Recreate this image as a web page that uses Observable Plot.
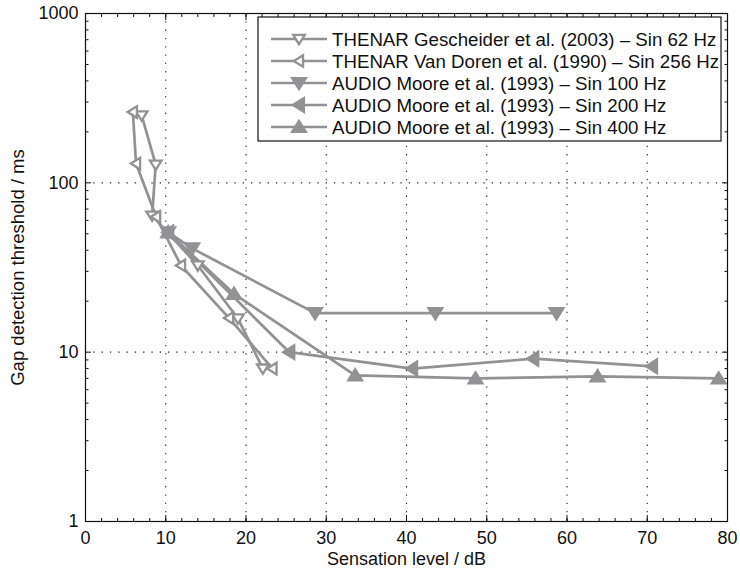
<!DOCTYPE html>
<html><head><meta charset="utf-8">
<script src="https://cdn.jsdelivr.net/npm/d3@7"></script>
<script src="https://cdn.jsdelivr.net/npm/@observablehq/plot@0.6"></script>
<style>
body{margin:0;background:#fff}
#chart{position:relative;width:740px;height:571px}
</style>
</head><body><div id="chart"></div>
<script>
// ---- data ----
const seriesNames = [
  "THENAR Gescheider et al. (2003) \u2013 Sin 62 Hz",
  "THENAR Van Doren et al. (1990) \u2013 Sin 256 Hz",
  "AUDIO Moore et al. (1993) \u2013 Sin 100 Hz",
  "AUDIO Moore et al. (1993) \u2013 Sin 200 Hz",
  "AUDIO Moore et al. (1993) \u2013 Sin 400 Hz"
];
const gescheiderX = [7.0, 8.75, 8.3, 14.0, 19.0, 22.1];
const gescheiderY = [250, 128, 64, 32.5, 15.8, 8.0];
const vanDorenX = [5.9, 6.3, 8.8, 11.9, 17.9, 23.3];
const vanDorenY = [262, 130, 63, 32.5, 15.9, 8.0];
const moore100X = [10.3, 13.3, 28.6, 43.6, 58.7];
const moore100Y = [51, 41, 17, 17, 17];
const moore200X = [10.3, 25.4, 40.7, 55.8, 70.6];
const moore200Y = [51, 10, 8.0, 9.15, 8.25];
const moore400X = [10.3, 18.5, 33.6, 48.6, 63.8, 78.9];
const moore400Y = [51, 22.1, 7.3, 7.0, 7.2, 7.0];

const xTicks = [0, 10, 20, 30, 40, 50, 60, 70, 80];
const xMinorTicks = d3.range(0, 81, 2);
const yTicks = [1, 10, 100, 1000];
const yMinorTicks = [1, 10, 100].flatMap(d => [2,3,4,5,6,7,8,9].map(m => m * d));
const xGrid = [10, 20, 30, 40, 50, 60, 70];
const yGrid = [10, 100];
const xLabel = "Sensation level / dB";
const yLabel = "Gap detection threshold / ms";

// ---- styling ----
const gray = "#929295";
const font = "'Liberation Sans', Arial, Helvetica, sans-serif";
const tri = pts => ({draw(ctx, size) {
  const r = Math.sqrt(size / Math.PI);
  ctx.moveTo(pts[0][0] * r, pts[0][1] * r);
  ctx.lineTo(pts[1][0] * r, pts[1][1] * r);
  ctx.lineTo(pts[2][0] * r, pts[2][1] * r);
  ctx.closePath();
}});
const symUp = tri([[0, -0.9], [1, 0.7], [-1, 0.7]]);
const symDown = tri([[0, 0.9], [1, -0.7], [-1, -0.7]]);
const symLeft = tri([[-0.9, 0], [0.7, -1], [0.7, 1]]);

const specs = [
  {xs: gescheiderX, ys: gescheiderY, symbol: symDown, filled: false},
  {xs: vanDorenX, ys: vanDorenY, symbol: symLeft, filled: false},
  {xs: moore100X, ys: moore100Y, symbol: symDown, filled: true},
  {xs: moore200X, ys: moore200Y, symbol: symLeft, filled: true},
  {xs: moore400X, ys: moore400Y, symbol: symUp, filled: true}
];
const rFilled = 7.6, rOpen = 5.8;
const rows = specs.flatMap((s, i) => s.xs.map((x, j) => ({series: seriesNames[i], x, y: s.ys[j]})));

const dotMarks = specs.map((s, i) => Plot.dot(rows.filter(d => d.series === seriesNames[i]), {
  x: "x", y: "y", symbol: () => s.symbol,
  r: s.filled ? rFilled : rOpen,
  fill: s.filled ? gray : "white",
  stroke: gray, strokeWidth: s.filled ? 1.5 : 2.3
}));

const plot = Plot.plot({
  width: 740, height: 571,
  marginLeft: 85, marginRight: 13, marginTop: 13, marginBottom: 50,
  style: {fontFamily: font, fontSize: "18px", background: "white", color: "#111"},
  x: {domain: [0, 80], label: null, axis: null},
  y: {type: "log", domain: [1, 1000], label: null, axis: null},
  symbol: {type: "identity"},
  marks: [
    Plot.ruleX(xGrid, {x: d => d, stroke: "#222", strokeWidth: 1.1, strokeDasharray: "1.3,7"}),
    Plot.ruleY(yGrid, {y: d => d, stroke: "#222", strokeWidth: 1.1, strokeDasharray: "1.3,7"}),
    Plot.line(rows, {x: "x", y: "y", z: "series", stroke: gray, strokeWidth: 2.7}),
    ...dotMarks,
    Plot.frame({stroke: "#111", strokeWidth: 1.2}),
    Plot.axisX({ticks: xTicks, anchor: "bottom", tickSize: -6, tickFormat: () => "", label: null}),
    Plot.axisX({ticks: xTicks, anchor: "top", tickSize: -6, tickFormat: () => "", label: null}),
    Plot.axisX({ticks: xMinorTicks, anchor: "bottom", tickSize: -3, tickFormat: () => "", label: null}),
    Plot.axisX({ticks: xMinorTicks, anchor: "top", tickSize: -3, tickFormat: () => "", label: null}),
    Plot.axisY({ticks: yTicks, anchor: "left", tickSize: -6, tickFormat: () => "", label: null}),
    Plot.axisY({ticks: yTicks, anchor: "right", tickSize: -6, tickFormat: () => "", label: null}),
    Plot.axisY({ticks: yMinorTicks, anchor: "left", tickSize: -3.5, tickFormat: () => "", label: null}),
    Plot.axisY({ticks: yMinorTicks, anchor: "right", tickSize: -3.5, tickFormat: () => "", label: null}),
    Plot.axisX({ticks: xTicks, anchor: "bottom", tickSize: 0, tickPadding: 10, tickFormat: d => String(d), label: null, fontSize: 18, fill: "#111"}),
    Plot.axisY({ticks: yTicks, anchor: "left", tickSize: 0, tickPadding: 7, tickFormat: d => String(d), label: null, fontSize: 18, fill: "#111"}),
    Plot.text([xLabel], {text: d => d, frameAnchor: "bottom", dy: 38, textAnchor: "middle", lineAnchor: "middle", fontSize: 18, fill: "#111"}),
    Plot.text([yLabel], {text: d => d, frameAnchor: "left", dx: -67, rotate: -90, textAnchor: "middle", lineAnchor: "middle", fontSize: 18.5, fill: "#111"})
  ]
});

// ---- legend (overlay inside the axes, top right) ----
const svg = d3.select(plot);
const lg = svg.append("g").attr("font-family", font).attr("font-size", 18.7).attr("text-anchor", "start");
const boxX = 258, boxY = 17, boxW = 463, boxH = 124, rowY0 = 39, rowDy = 22;
lg.append("rect").attr("x", boxX).attr("y", boxY).attr("width", boxW).attr("height", boxH)
  .attr("fill", "white").attr("stroke", "#111").attr("stroke-width", 1.2);
specs.forEach((s, i) => {
  const y = rowY0 + i * rowDy;
  lg.append("line").attr("x1", 271).attr("x2", 327).attr("y1", y).attr("y2", y)
    .attr("stroke", gray).attr("stroke-width", 2.7);
  const r = s.filled ? rFilled : rOpen;
  lg.append("path").attr("transform", `translate(299,${y})`)
    .attr("d", d3.symbol(s.symbol, Math.PI * r * r)())
    .attr("fill", s.filled ? gray : "white").attr("stroke", gray)
    .attr("stroke-width", s.filled ? 1.5 : 2.3);
  lg.append("text").attr("x", 332).attr("y", y).attr("dy", "0.35em")
    .attr("text-anchor", "start").attr("fill", "#111").text(seriesNames[i]);
});

document.getElementById("chart").appendChild(plot);
</script>
</body></html>
